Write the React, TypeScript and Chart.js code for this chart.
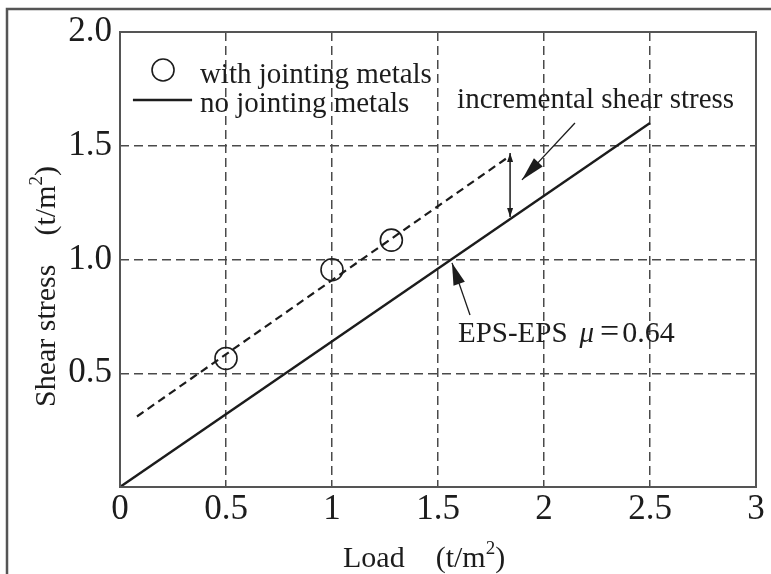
import React, { useEffect, useRef } from 'react';
import { Chart, registerables } from 'chart.js';

Chart.register(...registerables);

// ---- data ----
const xTickValues = [0, 0.5, 1, 1.5, 2, 2.5, 3];
const yTickValues = [0, 0.5, 1.0, 1.5, 2.0];
const yTickLabels = ['', '0.5', '1.0', '1.5', '2.0'];

const withMetalsX = [0.5, 1.0, 1.28];
const withMetalsY = [0.565, 0.955, 1.085];

const withFitX = [0.08, 1.825];
const withFitY = [0.31, 1.446];

const noMetalsX = [0, 2.5];
const noMetalsY = [0, 1.6];

// annotations in data units
const incArrowX = [1.84, 1.84];
const incArrowY = [1.187, 1.468];
const incPointerX = [2.146, 1.896];
const incPointerY = [1.6, 1.35];
const epsPointerX = [1.651, 1.566];
const epsPointerY = [0.756, 0.985];

const incLabelPos = [1.59, 1.666];
const epsLabelPos = [1.594, 0.637];
const legendMarkerPos = [0.203, 1.833];
const legendLineX = [0.061, 0.34];
const legendLineY = 1.701;
const legendTextX = 0.377;
const legendTextY = [1.776, 1.649];

const legendLabels = ['with jointing metals', 'no jointing metals'];
const xTitle = ['Load', '(t/m', '2', ')'];
const yTitle = ['Shear stress', '(t/m', '2', ')'];

const SERIF = '"Liberation Serif", "Times New Roman", serif';
const INK = '#1c1c1c';
const GRID = '#4a4a4a';

type Run = { text: string; size: number; italic?: boolean; dy?: number; gap?: number };

function drawRuns(ctx: CanvasRenderingContext2D, x: number, y: number, runs: Run[]) {
  let cx = x;
  for (const r of runs) {
    ctx.font = `${r.italic ? 'italic ' : ''}${r.size}px ${SERIF}`;
    ctx.fillText(r.text, cx, y + (r.dy || 0));
    cx += ctx.measureText(r.text).width + (r.gap || 0);
  }
}

function arrowHead(ctx: CanvasRenderingContext2D, tx: number, ty: number, fx: number, fy: number, len: number, hw: number) {
  const a = Math.atan2(ty - fy, tx - fx);
  const bx = tx - len * Math.cos(a);
  const by = ty - len * Math.sin(a);
  ctx.beginPath();
  ctx.moveTo(tx, ty);
  ctx.lineTo(bx + hw * Math.sin(a), by - hw * Math.cos(a));
  ctx.lineTo(bx - hw * Math.sin(a), by + hw * Math.cos(a));
  ctx.closePath();
  ctx.fill();
}

const decorPlugin = {
  id: 'decor',
  beforeDraw(chart: any) {
    const ctx = chart.ctx as CanvasRenderingContext2D;
    ctx.save();
    ctx.fillStyle = '#ffffff';
    ctx.fillRect(0, 0, chart.width, chart.height);
    // outer frame (top + left)
    ctx.strokeStyle = '#555';
    ctx.lineWidth = 2.5;
    ctx.beginPath();
    ctx.moveTo(7, chart.height);
    ctx.lineTo(7, 9);
    ctx.lineTo(chart.width, 9);
    ctx.stroke();
    ctx.restore();
  },
  afterDatasetsDraw(chart: any) {
    const ctx = chart.ctx as CanvasRenderingContext2D;
    const xs = chart.scales.x;
    const ys = chart.scales.y;
    const px = (v: number) => xs.getPixelForValue(v);
    const py = (v: number) => ys.getPixelForValue(v);
    const area = chart.chartArea;
    ctx.save();

    // plot box
    ctx.strokeStyle = '#555';
    ctx.lineWidth = 2;
    ctx.strokeRect(area.left, area.top, area.right - area.left, area.bottom - area.top);

    ctx.strokeStyle = INK;
    ctx.fillStyle = INK;

    // incremental double arrow
    const ax = px(incArrowX[0]);
    const ay1 = py(incArrowY[0]);
    const ay2 = py(incArrowY[1]);
    ctx.lineWidth = 1.5;
    ctx.beginPath();
    ctx.moveTo(ax, ay1);
    ctx.lineTo(ax, ay2);
    ctx.stroke();
    arrowHead(ctx, ax, ay1, ax, ay2, 9, 3);
    arrowHead(ctx, ax, ay2, ax, ay1, 9, 3);

    // pointer to incremental
    const p1x = px(incPointerX[0]), p1y = py(incPointerY[0]);
    const p2x = px(incPointerX[1]), p2y = py(incPointerY[1]);
    ctx.lineWidth = 1.3;
    ctx.beginPath();
    ctx.moveTo(p1x, p1y);
    ctx.lineTo(p2x, p2y);
    ctx.stroke();
    arrowHead(ctx, p2x, p2y, p1x, p1y, 24, 6);

    // pointer to EPS line
    const e1x = px(epsPointerX[0]), e1y = py(epsPointerY[0]);
    const e2x = px(epsPointerX[1]), e2y = py(epsPointerY[1]);
    ctx.beginPath();
    ctx.moveTo(e1x, e1y);
    ctx.lineTo(e2x, e2y);
    ctx.stroke();
    arrowHead(ctx, e2x, e2y, e1x, e1y, 22, 6);

    // texts
    ctx.textBaseline = 'alphabetic';
    ctx.textAlign = 'left';
    drawRuns(ctx, px(incLabelPos[0]), py(incLabelPos[1]), [{ text: 'incremental shear stress', size: 29 }]);
    drawRuns(ctx, px(epsLabelPos[0]), py(epsLabelPos[1]), [
      { text: 'EPS-EPS', size: 29, gap: 12 },
      { text: 'μ', size: 29, italic: true, gap: 6 },
      { text: '=', size: 34, gap: 3 },
      { text: '0.64', size: 30 },
    ]);

    // legend
    ctx.lineWidth = 1.6;
    ctx.beginPath();
    ctx.arc(px(legendMarkerPos[0]), py(legendMarkerPos[1]), 11, 0, Math.PI * 2);
    ctx.stroke();
    ctx.lineWidth = 2.4;
    ctx.beginPath();
    ctx.moveTo(px(legendLineX[0]), py(legendLineY));
    ctx.lineTo(px(legendLineX[1]), py(legendLineY));
    ctx.stroke();
    drawRuns(ctx, px(legendTextX), py(legendTextY[0]), [{ text: legendLabels[0], size: 29 }]);
    drawRuns(ctx, px(legendTextX), py(legendTextY[1]), [{ text: legendLabels[1], size: 29 }]);

    // axis titles
    const unitRuns = (t: string[]): Run[] => [
      { text: t[1], size: 30 },
      { text: t[2], size: 19, dy: -13 },
      { text: t[3], size: 30 },
    ];
    drawRuns(ctx, area.left + 223, chart.height - 7, [{ text: xTitle[0], size: 30, gap: 31 }, ...unitRuns(xTitle)]);

    ctx.translate(55, area.bottom - 80);
    ctx.rotate(-Math.PI / 2);
    drawRuns(ctx, 0, 0, [{ text: yTitle[0], size: 30, gap: 29 }, ...unitRuns(yTitle)]);
    ctx.restore();
  },
};

export default function App() {
  const ref = useRef<HTMLCanvasElement | null>(null);

  useEffect(() => {
    if (!ref.current) return;
    const chart = new Chart(ref.current, {
      type: 'scatter',
      data: {
        datasets: [
          {
            label: legendLabels[0],
            data: withMetalsX.map((x, i) => ({ x, y: withMetalsY[i] })),
            showLine: false,
            pointRadius: 11,
            pointBorderWidth: 1.6,
            pointBorderColor: INK,
            pointBackgroundColor: 'rgba(0,0,0,0)',
          },
          {
            label: 'fit with jointing metals',
            data: withFitX.map((x, i) => ({ x, y: withFitY[i] })),
            showLine: true,
            borderColor: INK,
            borderWidth: 2.2,
            borderDash: [8, 5],
            pointRadius: 0,
          },
          {
            label: legendLabels[1],
            data: noMetalsX.map((x, i) => ({ x, y: noMetalsY[i] })),
            showLine: true,
            borderColor: INK,
            borderWidth: 2.4,
            pointRadius: 0,
          },
        ],
      },
      options: {
        animation: false,
        responsive: false,
        devicePixelRatio: 1,
        layout: { padding: { left: 0, top: 32, right: 15, bottom: 0 } },
        plugins: { legend: { display: false }, tooltip: { enabled: false } },
        scales: {
          x: {
            type: 'linear',
            min: 0,
            max: 3,
            afterBuildTicks: (s: any) => {
              s.ticks = xTickValues.map((v) => ({ value: v }));
            },
            afterFit: (s: any) => {
              s.height = 87;
            },
            ticks: {
              padding: 2,
              color: INK,
              font: { family: SERIF, size: 35 },
              maxRotation: 0,
              autoSkip: false,
              callback: (v: any) => String(v),
            },
            grid: {
              drawTicks: false,
              lineWidth: 1.5,
              color: (c: any) =>
                c.tick && (c.tick.value === 0 || c.tick.value === 3) ? 'rgba(0,0,0,0)' : GRID,
            },
            border: { display: false, dash: [9, 5] },
          },
          y: {
            type: 'linear',
            min: 0,
            max: 2,
            afterBuildTicks: (s: any) => {
              s.ticks = yTickValues.map((v) => ({ value: v }));
            },
            afterFit: (s: any) => {
              s.width = 120;
            },
            ticks: {
              padding: 8,
              color: INK,
              font: { family: SERIF, size: 35 },
              autoSkip: false,
              callback: (v: any) => {
                const i = yTickValues.indexOf(Number(v));
                return i >= 0 ? yTickLabels[i] : '';
              },
            },
            grid: {
              drawTicks: false,
              lineWidth: 1.5,
              color: (c: any) =>
                c.tick && (c.tick.value === 0 || c.tick.value === 2) ? 'rgba(0,0,0,0)' : GRID,
            },
            border: { display: false, dash: [9, 5] },
          },
        },
      },
      plugins: [decorPlugin],
    } as any);
    return () => chart.destroy();
  }, []);

  return (
    <div style={{ position: 'fixed', left: 0, top: 0, width: 771, height: 574, background: '#fff' }}>
      <canvas ref={ref} width={771} height={574} style={{ display: 'block', width: 771, height: 574 }} />
    </div>
  );
}
